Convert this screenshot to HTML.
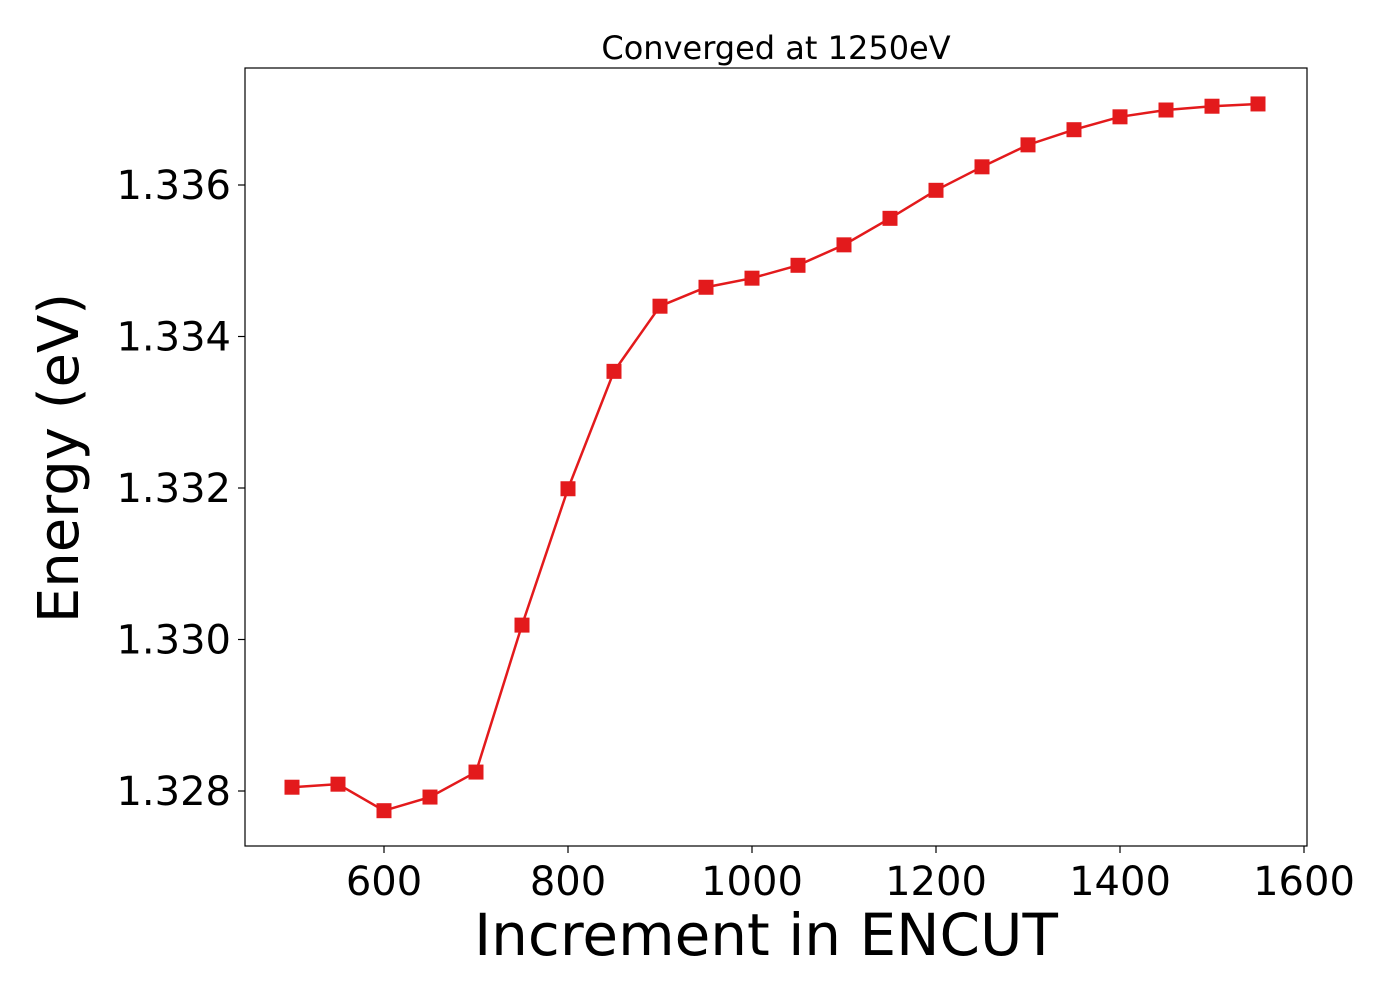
<!DOCTYPE html>
<html><head><meta charset="utf-8"><style>
html,body{margin:0;padding:0;background:#fff;}
svg{display:block;font-family:"DejaVu Sans","Liberation Sans",sans-serif;}
</style></head><body>
<svg id="chart" width="1400" height="1000">
<rect x="0" y="0" width="1400" height="1000" fill="#fff"/>
<text x="776" y="59" font-size="32" text-anchor="middle">Converged at 1250eV</text>
<g id="xticks"></g>
<g id="yticks"></g>
<g id="series"></g>
<rect x="245" y="68" width="1062" height="778" fill="none" stroke="#000" stroke-width="1.2"/>
<text x="766" y="955" font-size="58" text-anchor="middle">Increment in ENCUT</text>
<text transform="translate(78,458) rotate(-90)" font-size="56" text-anchor="middle">Energy (eV)</text>
</svg>
<script>
const encut = [500,550,600,650,700,750,800,850,900,950,1000,1050,1100,1150,1200,1250,1300,1350,1400,1450,1500,1550];
const energy = [1.32805,1.32809,1.32774,1.32792,1.32825,1.33019,1.33199,1.33354,1.33440,1.33465,1.33477,1.33494,1.33521,1.33556,1.33593,1.33624,1.33653,1.33673,1.33690,1.33699,1.33704,1.33707];
const xTickValues = [600,800,1000,1200,1400,1600];
const yTickValues = [1.328,1.330,1.332,1.334,1.336];
const yTickLabels = ["1.328","1.330","1.332","1.334","1.336"];

const NS="http://www.w3.org/2000/svg";
function xs(v){return 292+(v-500)*184/200;}
function ys(v){return 791-(v-1.328)*75750;}
function mk(tag,attrs,parent){const e=document.createElementNS(NS,tag);for(const k in attrs)e.setAttribute(k,attrs[k]);parent.appendChild(e);return e;}

const xg=document.getElementById('xticks');
xTickValues.forEach(v=>{
  const l=mk('line',{x1:xs(v),x2:xs(v),y1:846,y2:853,stroke:'#000','stroke-width':1.2},xg);
  
  
  const t=mk('text',{x:xs(v),y:895,'font-size':40,'text-anchor':'middle'},xg);
  t.textContent=v;
  
  
});
const yg=document.getElementById('yticks');
yTickValues.forEach((v,i)=>{
  const l=mk('line',{x1:238,x2:245,y1:ys(v),y2:ys(v),stroke:'#000','stroke-width':1.2},yg);
  
  
  const t=mk('text',{x:231,y:ys(v)+14,'font-size':40,'text-anchor':'end'},yg);
  t.textContent=yTickLabels[i];
  
  
});
const sg=document.getElementById('series');
const pts=encut.map((x,i)=>xs(x)+','+ys(energy[i])).join(' ');
const pl=mk('polyline',{points:pts,fill:'none',stroke:'#e31a1c','stroke-width':2.5},sg);


encut.forEach((x,i)=>{
  const r=mk('rect',{x:xs(x)-7.5,y:ys(energy[i])-7.5,width:15,height:15,fill:'#e31a1c'},sg);
  
  
});
</script>
</body></html>
